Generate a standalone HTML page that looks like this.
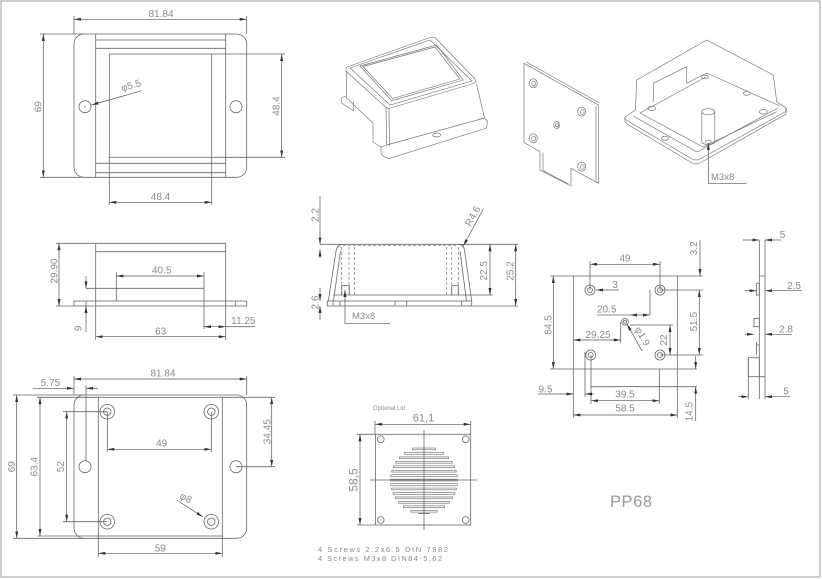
<!DOCTYPE html>
<html><head><meta charset="utf-8"><style>
html,body{margin:0;padding:0;background:#fff;}
svg{display:block}
.l{stroke:#666;stroke-width:.8;fill:none}
.t{stroke:#707070;stroke-width:.65;fill:none}
.dm{stroke:#555;stroke-width:.7;fill:none;marker-start:url(#ar);marker-end:url(#ar)}
.de{stroke:#555;stroke-width:.7;fill:none;marker-end:url(#ar)}
.ds{stroke:#555;stroke-width:.7;fill:none;marker-start:url(#ar)}
.dash{stroke:#777;stroke-width:.7;fill:none;stroke-dasharray:3 2}
text{font-family:"Liberation Sans",sans-serif;font-size:10px;fill:#8a8a8a}
</style></head><body>
<svg width="822" height="579" viewBox="0 0 822 579" xmlns="http://www.w3.org/2000/svg">
<defs>
<marker id="ar" viewBox="0 0 7 3" refX="7" refY="1.5" markerWidth="7" markerHeight="3" orient="auto-start-reverse" markerUnits="userSpaceOnUse"><path d="M0,0 L7,1.5 L0,3 Z" fill="#333"/></marker>
</defs>
<rect x="1" y="1" width="819" height="576" fill="none" stroke="#b4b4b4" stroke-width="1.3"/>

<!-- VIEW 1 top view -->
<rect class="l" x="74" y="34" width="172.7" height="143.3" rx="10"/>
<path class="l" d="M95.7,34V177.3M225.7,34V177.3M95.7,40H225.7M95.7,48.3H225.7M95.7,163.3H225.7M95.7,172.7H225.7"/>
<rect class="l" x="109.3" y="54" width="102.4" height="103.3"/>
<path class="l" d="M109.3,157.3V205M211.7,157.3V205"/>
<circle class="l" cx="85" cy="106.7" r="6"/>
<circle class="l" cx="236" cy="106.7" r="6"/>
<circle cx="85" cy="106.7" r=".6" fill="#666"/>
<path class="l" d="M74,16V34M246.7,16V34"/>
<line class="dm" x1="74" y1="19.3" x2="246.7" y2="19.3"/>
<text x="161" y="17" text-anchor="middle">81.84</text>
<path class="l" d="M40,34H84M40,177.3H84"/>
<line class="dm" x1="43.3" y1="34" x2="43.3" y2="177.3"/>
<text transform="translate(41.5,106.7) rotate(-90)" text-anchor="middle">69</text>
<path class="l" d="M211.7,54H285M211.7,157.3H285"/>
<line class="dm" x1="281.7" y1="54" x2="281.7" y2="157.3"/>
<text transform="translate(279.5,106) rotate(-90)" text-anchor="middle">48.4</text>
<line class="dm" x1="109.3" y1="202.3" x2="211.7" y2="202.3"/>
<text x="160.5" y="200" text-anchor="middle">48.4</text>
<line class="ds" x1="91.5" y1="105" x2="141.7" y2="90.7"/>
<text transform="translate(122,91.5) rotate(-16)">φ5.5</text>

<!-- VIEW 2 side view -->
<path class="l" d="M95.7,243.3H225.7M95.7,251.7H225.7M95.7,243.3V340M225.7,243.3V340"/>
<rect class="l" x="74" y="301" width="172.7" height="5"/>
<path class="l" d="M86,301V306M235.3,301V306"/>
<path class="l" d="M116.3,272V301M204,272V329M86,288.3H204"/>
<path class="l" d="M56,243.3H95.7M56,306H74"/>
<line class="dm" x1="59" y1="243.3" x2="59" y2="306"/>
<text transform="translate(57.5,271) rotate(-90)" text-anchor="middle">29.90</text>
<line class="dm" x1="116.3" y1="276" x2="204" y2="276"/>
<text x="161.7" y="273.5" text-anchor="middle">40.5</text>
<line class="de" x1="86" y1="276" x2="86" y2="288.3"/>
<line class="ds" x1="86" y1="306" x2="86" y2="332"/>
<text transform="translate(81.5,328.3) rotate(-90)" text-anchor="middle">9</text>
<line class="dm" x1="95.7" y1="336.7" x2="225.7" y2="336.7"/>
<text x="160.7" y="334.3" text-anchor="middle">63</text>
<line class="dm" x1="204" y1="326.7" x2="225.7" y2="326.7"/>
<line class="l" x1="225.7" y1="326.7" x2="255" y2="326.7"/>
<text x="243.3" y="324" text-anchor="middle">11.25</text>

<!-- VIEW 3 section -->
<path class="l" d="M320,244.3H518M466,295H493M471.7,306H518"/>
<path class="l" d="M328.3,301L336.2,250Q337.5,244.3 343,244.3M457.5,244.3Q463.5,244.3 464.5,250L471.7,301"/>
<path class="l" d="M333.5,301L340.5,251M466.5,301L460,251"/>
<path class="dash" d="M343,245.7H458M341.7,247V295M349,247V295M354.3,247V295M446.7,247V295M451.7,247V295M458.3,247V295"/>
<path class="l" d="M333,295H467"/>
<rect class="l" x="327.3" y="301" width="144.4" height="5"/>
<path class="l" d="M333,301V306M340,301V306M395,301V306M406.7,301V306M461.7,301V306"/>
<path class="l" d="M341.7,285.7H349.3V295M341.7,285.7V295M451.7,285.7H458.3V295M451.7,285.7V295"/>
<line class="de" x1="320" y1="196" x2="320" y2="244.3"/>
<line class="ds" x1="320" y1="249.5" x2="320" y2="258"/>
<text transform="translate(318.5,215) rotate(-90)" text-anchor="middle">2.2</text>
<line class="de" x1="320" y1="288" x2="320" y2="301"/>
<line class="ds" x1="320" y1="306" x2="320" y2="320"/>
<text transform="translate(318.5,302.5) rotate(-90)" text-anchor="middle">2.6</text>
<line class="dm" x1="490" y1="244.3" x2="490" y2="295"/>
<text transform="translate(487,270.8) rotate(-90)" text-anchor="middle">22.5</text>
<line class="dm" x1="515.7" y1="244.3" x2="515.7" y2="306"/>
<text transform="translate(513.5,271) rotate(-90)" text-anchor="middle">25.2</text>
<line class="ds" x1="463.3" y1="246" x2="483.3" y2="209"/>
<text transform="translate(470.5,227) rotate(-61)">R4.6</text>
<path class="ds" d="M345,290V323.3H390"/>
<text x="352" y="319" style="font-size:9.5px">M3x8</text>

<!-- VIEW 4 plate -->
<path class="l" d="M550,276H703M550,369H697M573.3,276V418M677.3,276V418"/>
<g class="l">
<circle cx="590" cy="290" r="5"/><circle cx="590" cy="290" r="2.5"/>
<circle cx="660" cy="290" r="5"/><circle cx="660" cy="290" r="2.5"/>
<circle cx="590.7" cy="355" r="5"/><circle cx="590.7" cy="355" r="2.5"/>
<circle cx="660" cy="355" r="5"/><circle cx="660" cy="355" r="2.5"/>
<circle cx="625" cy="321.7" r="3.3"/><circle cx="625" cy="321.7" r="1.5"/>
</g>
<path class="l" d="M590,261V290M660,261V290"/>
<line class="dm" x1="590" y1="264.3" x2="660" y2="264.3"/>
<text x="625" y="261.7" text-anchor="middle">49</text>
<line class="de" x1="619" y1="290" x2="596" y2="290"/>
<text x="615" y="288" text-anchor="middle">3</text>
<path class="l" d="M660,290H703M660,355H703"/>
<line class="dm" x1="699.3" y1="290" x2="699.3" y2="355"/>
<text transform="translate(697,321.7) rotate(-90)" text-anchor="middle">51.5</text>
<line class="de" x1="700" y1="240" x2="700" y2="276"/>
<text transform="translate(697,248.3) rotate(-90)" text-anchor="middle">3.2</text>
<path class="l" d="M650,290V315M597,315H630"/>
<line class="dm" x1="630" y1="315" x2="650" y2="315"/>
<text x="606.7" y="312.3" text-anchor="middle">20.5</text>
<path class="l" d="M620.7,322V343"/>
<line class="dm" x1="573.3" y1="340" x2="620.7" y2="340"/>
<text x="598" y="338" text-anchor="middle">29.25</text>
<line class="ds" x1="627" y1="324" x2="642" y2="351"/>
<text transform="translate(634.5,329) rotate(60)">φ1.9</text>
<path class="l" d="M630,325H673"/>
<line class="dm" x1="670" y1="325" x2="670" y2="355"/>
<text transform="translate(667,340) rotate(-90)" text-anchor="middle">22</text>
<line class="dm" x1="553.3" y1="276" x2="553.3" y2="369"/>
<text transform="translate(551.5,325) rotate(-90)" text-anchor="middle">64.5</text>
<path class="l" d="M585,352V397M591,355V404M659.3,369V404M591,386.7H697"/>
<line class="de" x1="538" y1="394" x2="573.3" y2="394"/>
<line class="ds" x1="585" y1="394" x2="594" y2="394"/>
<text x="545.5" y="392.3" text-anchor="middle">9.5</text>
<line class="dm" x1="591" y1="400.7" x2="659.3" y2="400.7"/>
<text x="625" y="397.5" text-anchor="middle">39.5</text>
<line class="dm" x1="573.3" y1="415" x2="677.3" y2="415"/>
<text x="625" y="411.7" text-anchor="middle">58.5</text>
<line class="de" x1="695.7" y1="356" x2="695.7" y2="369"/>
<line class="ds" x1="695.7" y1="386.7" x2="695.7" y2="421"/>
<text transform="translate(692.5,411.7) rotate(-90)" text-anchor="middle">14.5</text>

<!-- VIEW 5 side of plate -->
<path class="l" d="M759.3,240V399M765,240V399M748.3,357.7V399"/>
<path class="l" d="M759.3,276H765M759.3,376.7H765"/>
<rect class="l" x="756.5" y="283.3" width="2.8" height="11.7"/>
<rect class="l" x="754" y="318.3" width="5.3" height="8.4"/>
<path class="l" d="M756.5,341.7V355M756.5,345H759.3"/>
<rect class="l" x="748.3" y="357.7" width="11" height="19"/>
<line class="de" x1="743" y1="240" x2="759.3" y2="240"/>
<line class="de" x1="781" y1="240" x2="765" y2="240"/>
<text x="782.5" y="238" text-anchor="middle">5</text>
<line class="de" x1="745" y1="290.7" x2="756.5" y2="290.7"/>
<line class="ds" x1="765" y1="290.7" x2="802" y2="290.7"/>
<text x="794" y="289" text-anchor="middle">2.5</text>
<line class="de" x1="745" y1="334.3" x2="754" y2="334.3"/>
<line class="ds" x1="765" y1="334.3" x2="792" y2="334.3"/>
<text x="786" y="332.5" text-anchor="middle">2.8</text>
<line class="de" x1="738" y1="396.7" x2="748.3" y2="396.7"/>
<line class="ds" x1="765" y1="396.7" x2="790" y2="396.7"/>
<text x="786" y="394.5" text-anchor="middle">5</text>

<!-- VIEW 6 bottom view -->
<rect class="l" x="74" y="395" width="172.7" height="143.3" rx="10"/>
<rect class="l" x="98.3" y="397.3" width="124" height="138.7"/>
<path class="l" d="M98.3,536V557M222.3,536V557M74,376V395M246.7,376V395"/>
<line class="dm" x1="74" y1="379" x2="246.7" y2="379"/>
<text x="163" y="376.7" text-anchor="middle">81.84</text>
<path class="l" d="M13,395H84M13,538.3H84"/>
<line class="dm" x1="16.7" y1="395" x2="16.7" y2="538.3"/>
<text transform="translate(15,466.7) rotate(-90)" text-anchor="middle">69</text>
<path class="l" d="M37,397.3H98.3M37,536H98.3"/>
<line class="dm" x1="40" y1="397.3" x2="40" y2="536"/>
<text transform="translate(37.5,466.7) rotate(-90)" text-anchor="middle">63.4</text>
<path class="l" d="M63,411.7H107.3M63,521.7H107.3"/>
<line class="dm" x1="66.7" y1="411.7" x2="66.7" y2="521.7"/>
<text transform="translate(64,466.7) rotate(-90)" text-anchor="middle">52</text>
<g class="l">
<circle cx="107.3" cy="411.7" r="7.3"/><circle cx="107.3" cy="411.7" r="3.7"/>
<circle cx="211.3" cy="411.7" r="7.3"/><circle cx="211.3" cy="411.7" r="3.7"/>
<circle cx="107.3" cy="521.7" r="7.3"/><circle cx="107.3" cy="521.7" r="3.7"/>
<circle cx="211.3" cy="521.7" r="7.3"/><circle cx="211.3" cy="521.7" r="3.7"/>
<circle cx="85" cy="466.7" r="6"/><circle cx="236" cy="466.7" r="6"/>
</g>
<path class="l" d="M107.3,411.7V452M211.3,411.7V452"/>
<line class="dm" x1="107.3" y1="449.3" x2="211.3" y2="449.3"/>
<text x="161.7" y="446.7" text-anchor="middle">49</text>
<path class="l" d="M222.3,397.3H275M236,466.7H275"/>
<line class="dm" x1="271.7" y1="397.3" x2="271.7" y2="466.7"/>
<text transform="translate(270.5,431.7) rotate(-90)" text-anchor="middle">34.45</text>
<line class="de" x1="33" y1="388.3" x2="74" y2="388.3"/>
<line class="ds" x1="86" y1="388.3" x2="98" y2="388.3"/>
<path class="l" d="M86,385V461"/>
<text x="50.5" y="386" text-anchor="middle">5.75</text>
<line class="de" x1="176.7" y1="500" x2="203" y2="517"/>
<text transform="translate(179,498) rotate(27)">φ8</text>
<line class="dm" x1="98.3" y1="553.3" x2="222.3" y2="553.3"/>
<text x="160.3" y="551.5" text-anchor="middle">59</text>

<!-- VIEW 7 optional lid -->
<text x="373" y="410" style="font-size:6px">Optional Lid</text>
<path class="l" d="M375,421V434.3M470.7,421V434.3"/>
<line class="dm" x1="375" y1="424.3" x2="470.7" y2="424.3"/>
<text x="423.5" y="421.5" text-anchor="middle" style="font-size:11px">61,1</text>
<rect class="l" x="375.5" y="434.3" width="95.2" height="90.7"/>
<g class="l">
<circle cx="380.7" cy="439.3" r="3.4"/><circle cx="465.7" cy="439.3" r="3.4"/>
<circle cx="380.7" cy="520" r="3.4"/><circle cx="465.7" cy="520" r="3.4"/>
</g>
<path class="l" d="M424,430V530M370,480H476.7"/>
<path class="l" d="M357,434.3H375M357,525H375"/>
<line class="dm" x1="360" y1="434.3" x2="360" y2="525"/>
<text transform="translate(357.5,480) rotate(-90)" text-anchor="middle" style="font-size:12px">58,5</text>
<g class="t" stroke="#777">
<rect x="412.6" y="448" width="22.8" height="1.8"/>
<rect x="404.2" y="452.45" width="39.6" height="1.8"/>
<rect x="399.3" y="456.9" width="49.4" height="1.8"/>
<rect x="395.8" y="461.35" width="56.4" height="1.8"/>
<rect x="393.4" y="465.8" width="61.2" height="1.8"/>
<rect x="391.8" y="470.25" width="64.4" height="1.8"/>
<rect x="390.8" y="474.7" width="66.4" height="1.8"/>
<rect x="390.5" y="479.15" width="67" height="1.8"/>
<rect x="390.75" y="483.6" width="66.5" height="1.8"/>
<rect x="391.6" y="488.05" width="64.8" height="1.8"/>
<rect x="393.1" y="492.5" width="61.8" height="1.8"/>
<rect x="395.4" y="496.95" width="57.2" height="1.8"/>
<rect x="398.6" y="501.4" width="50.8" height="1.8"/>
<rect x="403.3" y="505.85" width="41.4" height="1.8"/>
<rect x="410.8" y="510.3" width="26.4" height="1.8"/>
</g>
<line class="l" x1="418" y1="513.5" x2="430" y2="513.5"/>
<text x="318" y="552" style="font-size:7.5px" textLength="130" lengthAdjust="spacing">4 Screws 2.2x6.5 DIN 7982</text>
<text x="318" y="561" style="font-size:7.5px" textLength="124" lengthAdjust="spacing">4 Screws M3x8 DIN84-5.62</text>

<text x="610" y="507" style="font-size:16.5px;fill:#999" textLength="42" lengthAdjust="spacing">PP68</text>

<!-- ISO 1 box -->
<g class="t">
<path d="M347,67 L430,37.5 Q434,36.5 436.5,39 L474.5,78.5 Q477,82 473.5,83.5 L390.5,108 Q387,109 385,106.5 L346.5,71.5 Q345,69 347,67Z"/>
<path d="M350,68 L430,40 L472,81 L390,105 Z"/>
<path d="M360,66 L436.7,45 L463.3,80 L391.7,100.7 Z"/>
<path d="M363,66.5 L435,47 L460,79 L392.5,98.5Z"/>
<path d="M386,108 L386.7,145 M389,108.5 L389.5,146"/>
<path d="M476.5,84 L484.5,118"/>
<path d="M386.7,145 L484.5,118"/>
<path d="M381,147 L381,152 Q381.5,157 389,158.5 L486.5,128 L487.5,121 L484.5,118 M381,147 L386.7,145"/>
<path d="M346.5,71 L346.5,98 L373,123 L373,142 L381,147"/>
<path d="M346.5,96 L341.7,97.5 L341.7,103 L353.3,111 L353.3,101"/>
<ellipse cx="436.7" cy="135" rx="4" ry="2"/>
</g>

<!-- ISO 2 plate -->
<g class="t">
<path d="M524,63.3 L598.3,105 V183.3 L571,168.3 V186 L540,170 V151.5 L524,142.5 Z"/>
<path d="M526.5,62 L599.5,103 M596,106 V182 M543,152.5 V170.5 L568.5,184"/>
<ellipse cx="533.3" cy="83.3" rx="4" ry="4.5"/><ellipse cx="533.8" cy="83.6" rx="2" ry="2.3"/>
<ellipse cx="581.7" cy="111.7" rx="4" ry="4.5"/><ellipse cx="582.2" cy="112" rx="2" ry="2.3"/>
<ellipse cx="533.3" cy="138.3" rx="4" ry="4.5"/><ellipse cx="533.8" cy="138.6" rx="2" ry="2.3"/>
<ellipse cx="581.7" cy="166.7" rx="4" ry="4.5"/><ellipse cx="582.2" cy="167" rx="2" ry="2.3"/>
<ellipse cx="556.7" cy="125" rx="3" ry="3.5"/><ellipse cx="557" cy="125.3" rx="1.5" ry="1.7"/>
</g>

<!-- ISO 3 open box -->
<g class="t">
<path d="M636.7,80 L706.7,40 L773.3,75 L776.7,101.7"/>
<path d="M636.7,80 L635.5,110"/>
<path d="M653.3,83.3 L686.7,66.7 L686.7,83.3 L706.7,73"/>
<path d="M653.3,83.3 V102"/>
<path d="M706.7,73 L780,106"/>
<path d="M625,117 Q624,119 627,120.5 L692,159 Q696,161 700,159 L785,112 Q788,110 786,108 L776.7,101.7"/>
<path d="M625,117 L635.5,110"/>
<path d="M627,124 L692,163 Q696,165 700,163 L786,114 L786,108"/>
<path d="M625,117 V121 Q625,122.5 627,124"/>
<path d="M633,116 L697,152 L778,108"/>
<path d="M640,113 L706,77 M640,113 L703,147 L776.7,111.7"/>
<ellipse cx="708.3" cy="111.7" rx="6.5" ry="3"/>
<path d="M701.8,111.7 V141.7 M714.8,111.7 V141.7"/>
<path d="M701.8,141.7 A6.5,3 0 0 0 714.8,141.7"/>
<ellipse cx="708.3" cy="141.7" rx="3" ry="1.6"/>
<ellipse cx="665" cy="138.3" rx="3.5" ry="2"/>
<ellipse cx="746.7" cy="93.3" rx="3.5" ry="2"/>
<ellipse cx="651.7" cy="108.3" rx="4" ry="2.2"/>
<ellipse cx="763.3" cy="111.7" rx="4" ry="2.2"/>
<ellipse cx="705" cy="77" rx="3.5" ry="1.8"/>
</g>
<path class="ds" d="M708.3,143 V183.3 H746.7"/>
<text x="711" y="180" style="font-size:9.5px">M3x8</text>
</svg>
</body></html>
